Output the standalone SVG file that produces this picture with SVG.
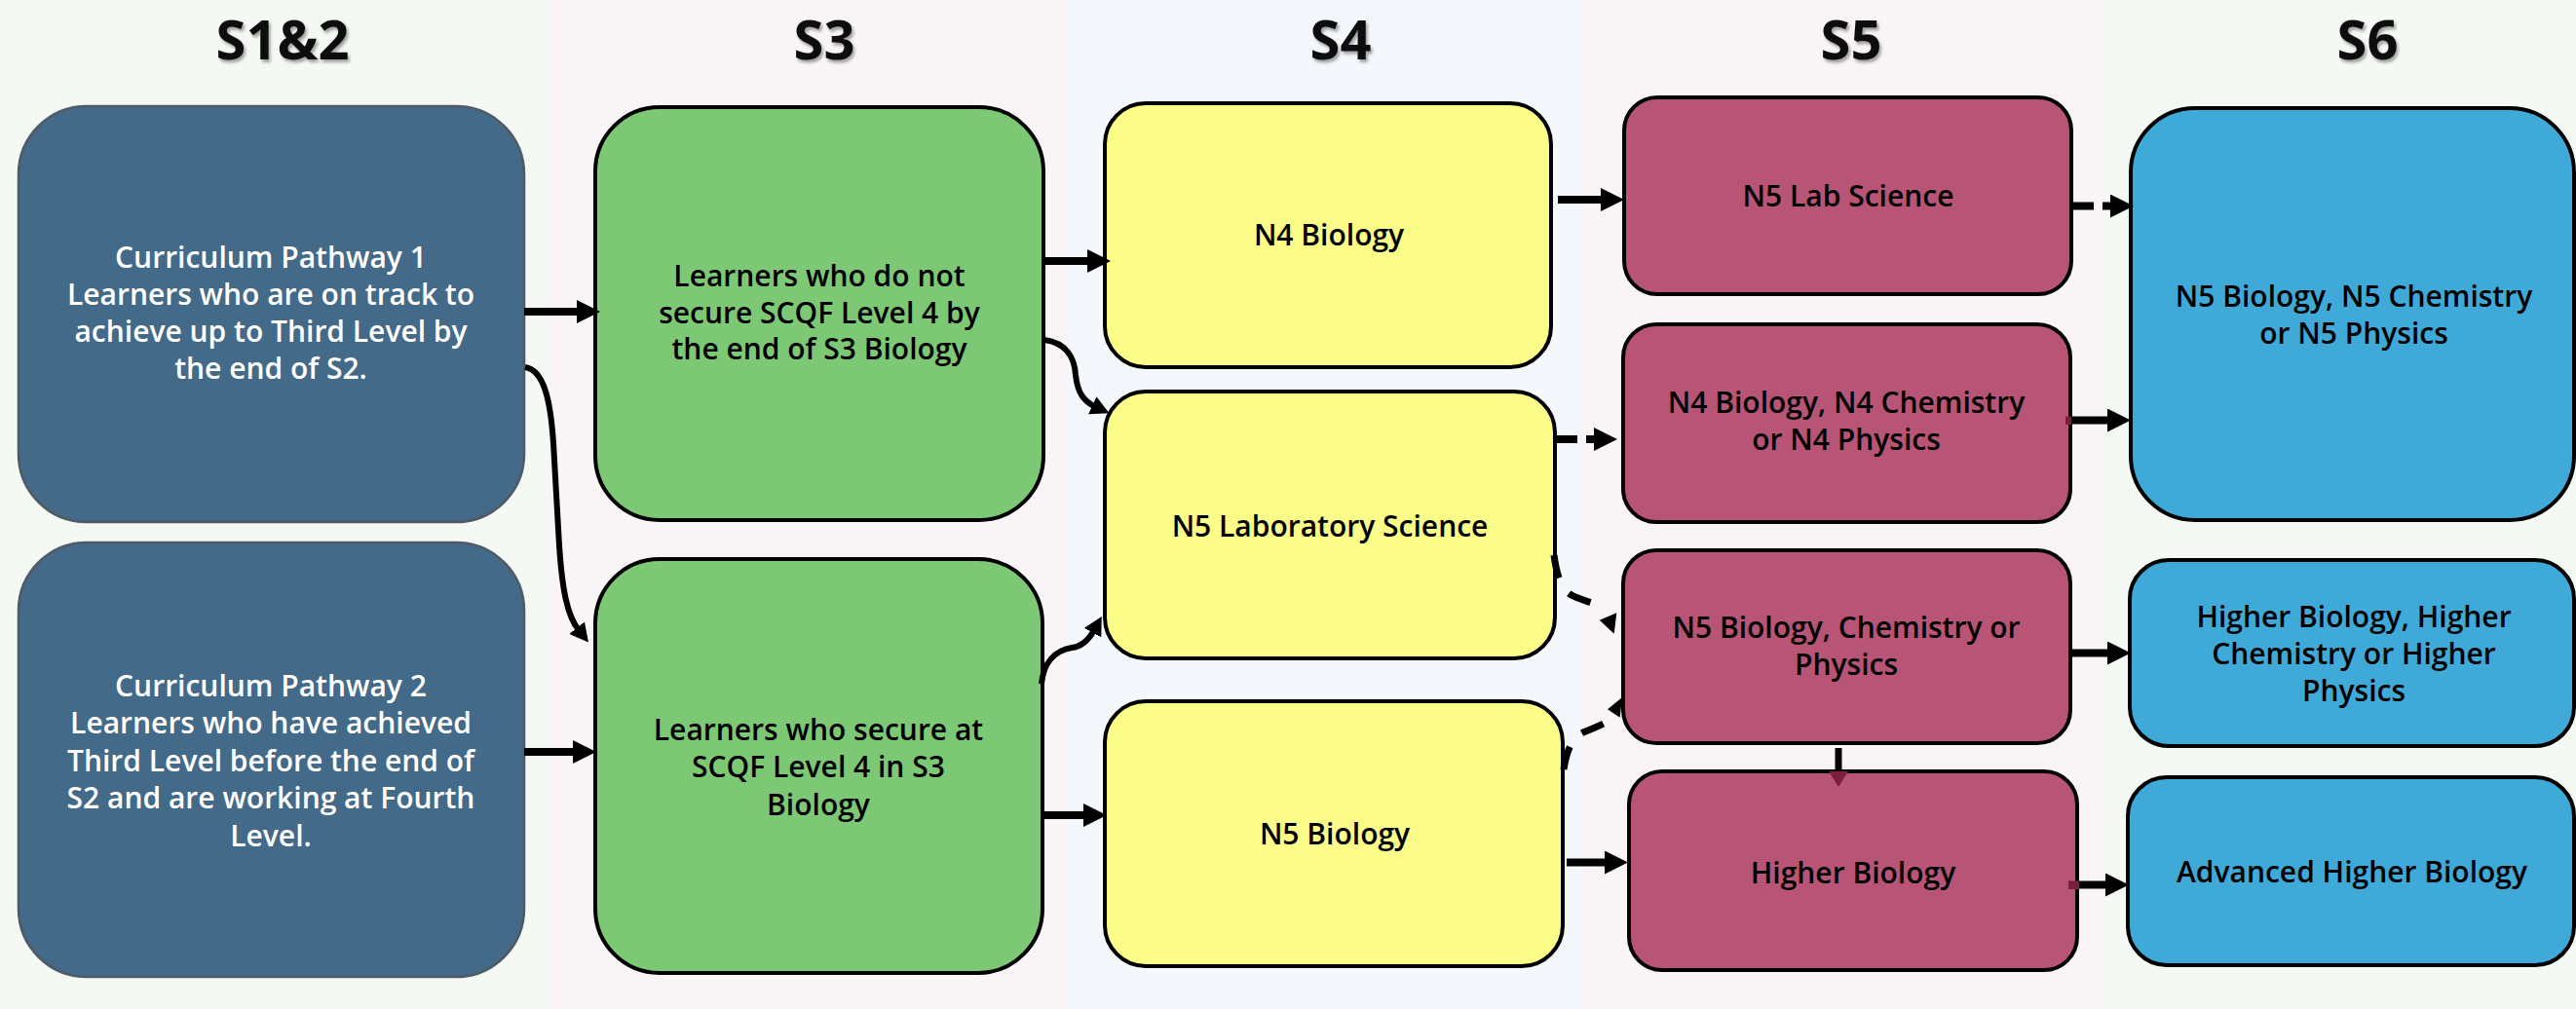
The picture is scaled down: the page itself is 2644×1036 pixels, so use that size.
<svg xmlns="http://www.w3.org/2000/svg" width="2644" height="1036" viewBox="0 0 2644 1036">
<defs>
<style>
.t{font-family:"Open Sans","Noto Sans","DejaVu Sans",sans-serif;font-size:30px;font-weight:600;text-anchor:middle;fill:#000}
.w{fill:#ffffff}
.h{font-family:"Open Sans","Noto Sans","DejaVu Sans",sans-serif;font-size:56px;font-weight:700;text-anchor:middle;fill:#111}
.pw{fill:#436a89;stroke:#505a64;stroke-width:2.5}
.gr{fill:#7dc874;stroke:#000;stroke-width:4}
.ye{fill:#fbfd88;stroke:#000;stroke-width:4}
.ma{fill:#b85475;stroke:#000;stroke-width:4}
.bl{fill:#3faad8;stroke:#000;stroke-width:4}
.c{fill:none;stroke:#000}
.k{stroke-width:8}
.n{stroke-width:6}
.dn{stroke-width:7}
.d1{stroke-dasharray:22 9}
.d2{stroke-dasharray:24 19}
</style>
<marker id="big" markerUnits="userSpaceOnUse" markerWidth="24" markerHeight="24" refX="4" refY="12" orient="auto" viewBox="0 0 24 24">
<path d="M0,0 L24,12 L0,24 z" fill="#000"/>
</marker>
<marker id="sm" markerUnits="userSpaceOnUse" markerWidth="19" markerHeight="20" refX="3" refY="10" orient="auto" viewBox="0 0 19 20">
<path d="M0,0 L19,10 L0,20 z" fill="#000"/>
</marker>
<filter id="sh" x="-20%" y="-20%" width="140%" height="140%">
<feDropShadow dx="2" dy="3" stdDeviation="1.5" flood-color="#000" flood-opacity="0.35"/>
</filter>
</defs>

<g id="columns">
<rect x="0" y="0" width="563" height="1036" fill="#f5f9f3"/>
<rect x="563" y="0" width="533" height="1036" fill="#f9f4f6"/>
<rect x="1096" y="0" width="530" height="1036" fill="#f4f8fc"/>
<rect x="1626" y="0" width="532" height="1036" fill="#f9f4f6"/>
<rect x="2158" y="0" width="486" height="1036" fill="#f5f9f4"/>
</g>

<g id="titles" filter="url(#sh)">
<text class="h" x="290" y="61">S1&amp;2</text>
<text class="h" x="846" y="61">S3</text>
<text class="h" x="1376" y="61">S4</text>
<text class="h" x="1900" y="61">S5</text>
<text class="h" x="2430" y="61">S6</text>
</g>

<g id="pathway1">
<rect class="pw" x="19" y="109" width="519" height="427" rx="70" ry="70"/>
<text class="t w" x="278" y="275">Curriculum Pathway 1</text>
<text class="t w" x="278" y="313">Learners who are on track to</text>
<text class="t w" x="278" y="351">achieve up to Third Level by</text>
<text class="t w" x="278" y="389">the end of S2.</text>
</g>

<g id="pathway2">
<rect class="pw" x="19" y="557" width="519" height="446" rx="70" ry="70"/>
<text class="t w" x="278" y="715">Curriculum Pathway 2</text>
<text class="t w" x="278" y="753">Learners who have achieved</text>
<text class="t w" x="278" y="792">Third Level before the end of</text>
<text class="t w" x="278" y="830">S2 and are working at Fourth</text>
<text class="t w" x="278" y="869">Level.</text>
</g>

<g id="s3-not-secure">
<rect class="gr" x="611" y="110" width="460" height="424" rx="66" ry="66"/>
<text class="t" x="841" y="294">Learners who do not</text>
<text class="t" x="841" y="332">secure SCQF Level 4 by</text>
<text class="t" x="841" y="369">the end of S3 Biology</text>
</g>

<g id="s3-secure">
<rect class="gr" x="611" y="574" width="459" height="425" rx="66" ry="66"/>
<text class="t" x="840" y="760">Learners who secure at</text>
<text class="t" x="840" y="798">SCQF Level 4 in S3</text>
<text class="t" x="840" y="837">Biology</text>
</g>

<g id="s4-n4-biology">
<rect class="ye" x="1134" y="106" width="458" height="271" rx="42" ry="42"/>
<text class="t" x="1364" y="252">N4 Biology</text>
</g>

<g id="s4-n5-lab">
<rect class="ye" x="1134" y="402" width="462" height="274" rx="42" ry="42"/>
<text class="t" x="1365" y="551">N5 Laboratory Science</text>
</g>

<g id="s4-n5-biology">
<rect class="ye" x="1134" y="720" width="470" height="272" rx="42" ry="42"/>
<text class="t" x="1370" y="867">N5 Biology</text>
</g>

<g id="s5-n5-lab">
<rect class="ma" x="1667" y="100" width="459" height="202" rx="34" ry="34"/>
<text class="t" x="1897" y="212">N5 Lab Science</text>
</g>

<g id="s5-n4-sciences">
<rect class="ma" x="1666" y="333" width="459" height="203" rx="34" ry="34"/>
<text class="t" x="1895" y="424">N4 Biology, N4 Chemistry</text>
<text class="t" x="1895" y="462">or N4 Physics</text>
</g>

<g id="s5-n5-sciences">
<rect class="ma" x="1666" y="565" width="459" height="198" rx="34" ry="34"/>
<text class="t" x="1895" y="655">N5 Biology, Chemistry or</text>
<text class="t" x="1895" y="693">Physics</text>
</g>

<g id="s5-higher-biology">
<rect class="ma" x="1672" y="792" width="460" height="204" rx="34" ry="34"/>
<text class="t" x="1902" y="907">Higher Biology</text>
</g>

<g id="s6-n5-sciences">
<rect class="bl" x="2187" y="111" width="455" height="423" rx="66" ry="66"/>
<text class="t" x="2416" y="315">N5 Biology, N5 Chemistry</text>
<text class="t" x="2416" y="353">or N5 Physics</text>
</g>

<g id="s6-higher-sciences">
<rect class="bl" x="2186" y="575" width="456" height="191" rx="40" ry="40"/>
<text class="t" x="2416" y="644">Higher Biology, Higher</text>
<text class="t" x="2416" y="682">Chemistry or Higher</text>
<text class="t" x="2416" y="720">Physics</text>
</g>

<g id="s6-adv-higher">
<rect class="bl" x="2184" y="798" width="458" height="193" rx="40" ry="40"/>
<text class="t" x="2414" y="906">Advanced Higher Biology</text>
</g>

<g id="connectors">
<path class="c k" d="M538,320 L596,320" marker-end="url(#big)"/>
<path class="c k" d="M538,772 L592,772" marker-end="url(#big)"/>
<path class="c n" d="M539,377 C558,380 565,410 568,455 L574,560 C577,605 582,632 594,647" marker-end="url(#sm)"/>
<path class="c k" d="M1072,268 L1120,268" marker-end="url(#big)"/>
<path class="c n" d="M1072,349 C1095,352 1103,368 1104,385 C1106,403 1112,412 1124,417.5" marker-end="url(#sm)"/>
<path class="c n" d="M1069,702 C1071,680 1083,668 1100,665 C1110,664 1118,656 1123,647" marker-end="url(#sm)"/>
<path class="c k" d="M1070,837 L1116,837" marker-end="url(#big)"/>
<path class="c k" d="M1599,205 L1647,205" marker-end="url(#big)"/>
<path class="c k d1" d="M1597,451 L1640,451" marker-end="url(#big)"/>
<path class="c dn d2" d="M1595,570 C1598,592 1603,608 1617,613 C1627,617 1634,619 1640,621"/>
<polygon points="1641.7,636.7 1659.3,629.3 1656.7,650.7" fill="#000"/>
<path class="c dn d2" d="M1605,790 C1608,770 1614,757 1625,752 C1640,746 1652,741 1658,735"/>
<polygon points="1665,716 1650,728.3 1662.7,736.7" fill="#000"/>
<path class="c k" d="M1608,885.5 L1651,885.5" marker-end="url(#big)"/>
<path class="c" d="M1887,768 L1887,790" style="stroke-width:7"/>
<polygon points="1877,792 1897,792 1887,808" fill="#7a1f3e"/>
<path class="c k d1" d="M2127,211.5 L2170,211.5" marker-end="url(#big)"/>
<path class="c k" d="M2125,431.5 L2167,431.5" marker-end="url(#big)"/>
<rect x="2120" y="427.5" width="6" height="8.5" fill="#7a1f3e"/>
<path class="c k" d="M2126,670.5 L2167,670.5" marker-end="url(#big)"/>
<path class="c k" d="M2133,908.5 L2165,908.5" marker-end="url(#big)"/>
<rect x="2123" y="904.5" width="11" height="8.5" fill="#7a1f3e"/>
</g>
</svg>
